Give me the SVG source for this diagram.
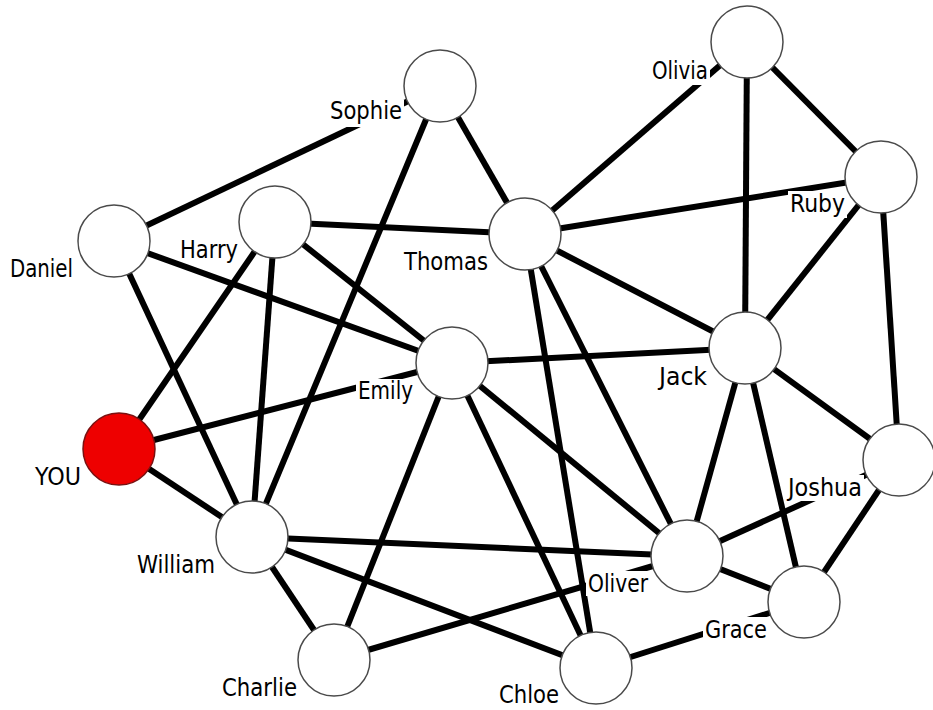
<svg xmlns="http://www.w3.org/2000/svg" width="933" height="710" viewBox="0 0 933 710">
  <style>
    .edge { stroke: #000; stroke-width: 6; stroke-linecap: butt; fill: none; }
    .node { fill: #fff; stroke: #4a4a4a; stroke-width: 1.5; }
    .you { fill: #ee0000; stroke: #7a1010; stroke-width: 1.5; }
    .bg { fill: #fff; }
    .lbl { font-family: "DejaVu Sans Condensed", "DejaVu Sans", sans-serif; font-stretch: condensed; font-size: 24px; fill: #000; }
  </style>
  <rect width="933" height="710" fill="#fff"/>

  <!-- connectors -->
  <g id="edges" class="edge">
    <line x1="114" y1="241" x2="440" y2="86"/>      <!-- Daniel-Sophie -->
    <line x1="114" y1="241" x2="452" y2="363"/>     <!-- Daniel-Emily -->
    <line x1="114" y1="241" x2="252" y2="537"/>     <!-- Daniel-William -->
    <line x1="275" y1="222" x2="119" y2="449"/>     <!-- Harry-YOU -->
    <line x1="275" y1="222" x2="252" y2="537"/>     <!-- Harry-William -->
    <line x1="275" y1="222" x2="525" y2="234"/>     <!-- Harry-Thomas -->
    <line x1="275" y1="222" x2="452" y2="363"/>     <!-- Harry-Emily -->
    <line x1="440" y1="86" x2="252" y2="537"/>      <!-- Sophie-William -->
    <line x1="440" y1="86" x2="525" y2="234"/>      <!-- Sophie-Thomas -->
    <line x1="119" y1="449" x2="452" y2="363"/>     <!-- YOU-Emily -->
    <line x1="119" y1="449" x2="252" y2="537"/>     <!-- YOU-William -->
    <line x1="452" y1="363" x2="334" y2="660"/>     <!-- Emily-Charlie -->
    <line x1="252" y1="537" x2="687" y2="556"/>     <!-- William-Oliver -->
    <line x1="252" y1="537" x2="596" y2="668"/>     <!-- William-Chloe -->
    <line x1="252" y1="537" x2="334" y2="660"/>     <!-- William-Charlie -->
    <line x1="334" y1="660" x2="687" y2="556"/>     <!-- Charlie-Oliver -->
    <line x1="525" y1="234" x2="747" y2="42"/>      <!-- Thomas-Olivia -->
    <line x1="525" y1="234" x2="881" y2="177"/>     <!-- Thomas-Ruby -->
    <line x1="525" y1="234" x2="745" y2="348"/>     <!-- Thomas-Jack -->
    <line x1="525" y1="234" x2="596" y2="668"/>     <!-- Thomas-Chloe -->
    <line x1="525" y1="234" x2="687" y2="556"/>     <!-- Thomas-Oliver -->
    <line x1="747" y1="42" x2="745" y2="348"/>      <!-- Olivia-Jack -->
    <line x1="747" y1="42" x2="881" y2="177"/>      <!-- Olivia-Ruby -->
    <line x1="881" y1="177" x2="745" y2="348"/>     <!-- Ruby-Jack -->
    <line x1="881" y1="177" x2="899" y2="460"/>     <!-- Ruby-Joshua -->
    <line x1="452" y1="363" x2="745" y2="348"/>     <!-- Emily-Jack -->
    <line x1="452" y1="363" x2="687" y2="556"/>     <!-- Emily-Oliver -->
    <line x1="452" y1="363" x2="596" y2="668"/>     <!-- Emily-Chloe -->
    <line x1="745" y1="348" x2="687" y2="556"/>     <!-- Jack-Oliver -->
    <line x1="745" y1="348" x2="804" y2="602"/>     <!-- Jack-Grace -->
    <line x1="745" y1="348" x2="899" y2="460"/>     <!-- Jack-Joshua -->
    <line x1="687" y1="556" x2="899" y2="460"/>     <!-- Oliver-Joshua -->
    <line x1="687" y1="556" x2="804" y2="602"/>     <!-- Oliver-Grace -->
    <line x1="804" y1="602" x2="899" y2="460"/>     <!-- Grace-Joshua -->
    <line x1="596" y1="668" x2="804" y2="602"/>     <!-- Chloe-Grace -->
  </g>

  <!-- nodes -->
  <g id="sophie"><circle class="node" cx="440" cy="86" r="36"/>
    <rect class="bg" x="328" y="100" width="76" height="27"/>
    <text class="lbl" x="330" y="119" textLength="72" lengthAdjust="spacingAndGlyphs">Sophie</text></g>
  <g id="olivia"><circle class="node" cx="747" cy="42" r="36"/>
    <rect class="bg" x="650" y="60" width="60" height="25"/>
    <text class="lbl" x="652" y="79" textLength="56" lengthAdjust="spacingAndGlyphs">Olivia</text></g>
  <g id="ruby"><circle class="node" cx="881" cy="177" r="36"/>
    <rect class="bg" x="788" y="191" width="59" height="27"/>
    <text class="lbl" x="790" y="212" textLength="55" lengthAdjust="spacingAndGlyphs">Ruby</text></g>
  <g id="daniel"><circle class="node" cx="114" cy="241" r="36"/>
    <text class="lbl" x="10" y="277" textLength="63" lengthAdjust="spacingAndGlyphs">Daniel</text></g>
  <g id="harry"><circle class="node" cx="275" cy="222" r="36"/>
    <text class="lbl" x="180" y="258" textLength="58" lengthAdjust="spacingAndGlyphs">Harry</text></g>
  <g id="thomas"><circle class="node" cx="525" cy="234" r="36"/>
    <text class="lbl" x="404" y="270" textLength="84" lengthAdjust="spacingAndGlyphs">Thomas</text></g>
  <g id="emily"><circle class="node" cx="452" cy="363" r="36"/>
    <rect class="bg" x="356" y="379" width="59" height="26"/>
    <text class="lbl" x="358" y="399" textLength="55" lengthAdjust="spacingAndGlyphs">Emily</text></g>
  <g id="jack"><circle class="node" cx="745" cy="348" r="36"/>
    <text class="lbl" x="659" y="385" textLength="48" lengthAdjust="spacingAndGlyphs">Jack</text></g>
  <g id="you"><circle class="you" cx="119" cy="449" r="36"/>
    <text class="lbl" x="35" y="485" textLength="46" lengthAdjust="spacingAndGlyphs">YOU</text></g>
  <g id="joshua"><circle class="node" cx="899" cy="460" r="36"/>
    <rect class="bg" x="786" y="475" width="78" height="26"/>
    <text class="lbl" x="788" y="496" textLength="74" lengthAdjust="spacingAndGlyphs">Joshua</text></g>
  <g id="william"><circle class="node" cx="252" cy="537" r="36"/>
    <text class="lbl" x="137" y="573" textLength="78" lengthAdjust="spacingAndGlyphs">William</text></g>
  <g id="oliver"><circle class="node" cx="687" cy="556" r="36"/>
    <rect class="bg" x="586" y="571" width="62" height="25"/>
    <text class="lbl" x="588" y="592" textLength="60" lengthAdjust="spacingAndGlyphs">Oliver</text></g>
  <g id="grace"><circle class="node" cx="804" cy="602" r="36"/>
    <rect class="bg" x="703" y="617" width="64" height="26"/>
    <text class="lbl" x="705" y="638" textLength="62" lengthAdjust="spacingAndGlyphs">Grace</text></g>
  <g id="charlie"><circle class="node" cx="334" cy="660" r="36"/>
    <text class="lbl" x="222" y="696" textLength="75" lengthAdjust="spacingAndGlyphs">Charlie</text></g>
  <g id="chloe"><circle class="node" cx="596" cy="668" r="36"/>
    <text class="lbl" x="499" y="703" textLength="60" lengthAdjust="spacingAndGlyphs">Chloe</text></g>
</svg>
